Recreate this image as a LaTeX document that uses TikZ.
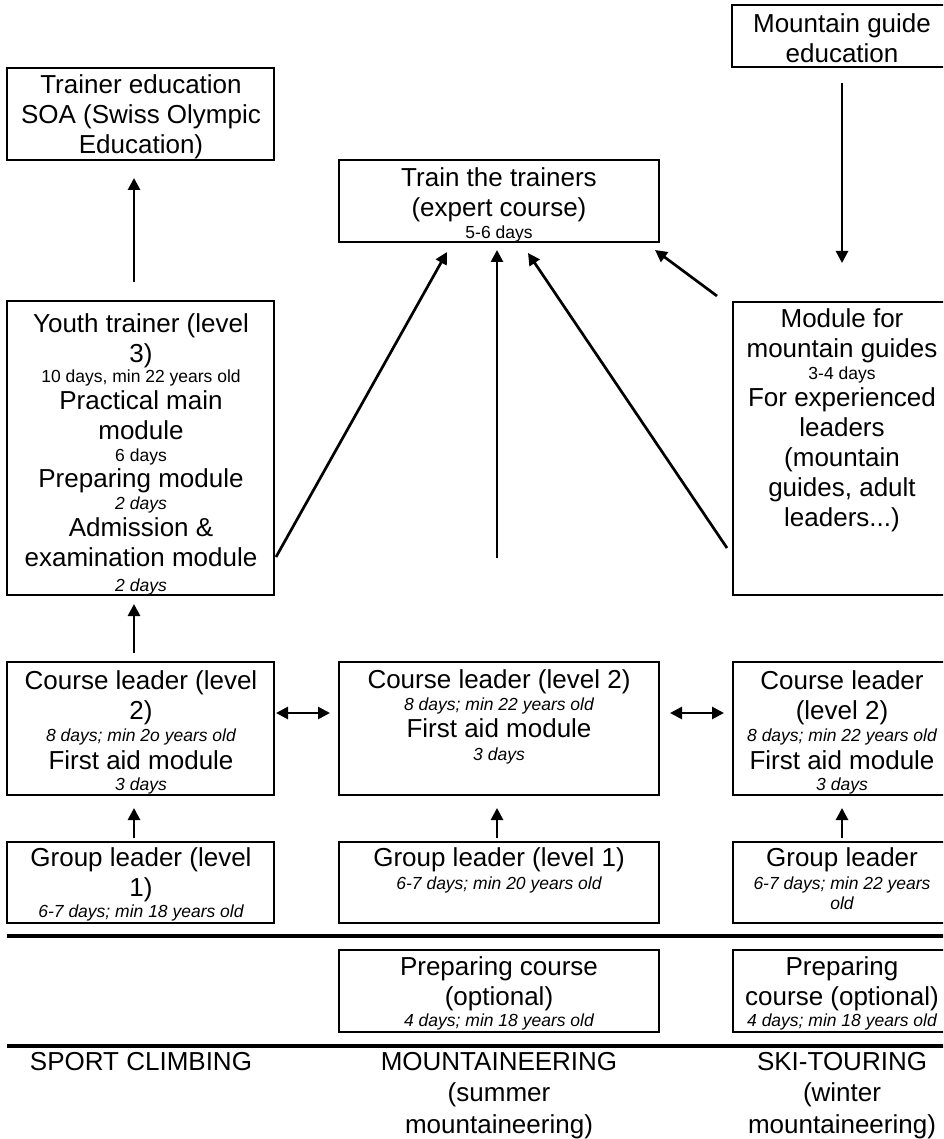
\documentclass[tikz,border=0pt]{standalone}
\usepackage{fontspec}
\setmainfont{Liberation Sans}
\usetikzlibrary{arrows.meta}
\newcommand\bigf{\fontsize{26}{30}\selectfont}
\newcommand\smallf{\fontsize{17.5}{21}\selectfont}
\newcommand\note[1]{{\smallf #1}}
\newcommand\inote[1]{{\smallf\itshape #1}}

\begin{document}
\begin{tikzpicture}[x=1pt,y=-1pt,
  box/.style={draw,line width=2.2pt,inner sep=0pt,outer sep=0pt,anchor=north west},
  txt/.style={anchor=north,align=center,inner sep=0pt,font=\bigf},
  arr/.style={line width=2.7pt,-{Triangle[length=12pt,width=12pt]}},
  darr/.style={line width=2.7pt,{Triangle[length=12pt,width=12pt]}-{Triangle[length=12pt,width=12pt]}},
  sepline/.style={line width=4pt}]

\clip (0,0) rectangle (943,1139);
\fill[white] (0,0) rectangle (943,1139);

% ---------- boxes ----------
\node[box,minimum width=219pt,minimum height=62pt]  (mg)      at (732,5)   {};
\node[box,minimum width=267pt,minimum height=92pt]  (trainer) at (7,68)    {};
\node[box,minimum width=320pt,minimum height=82pt]  (train)   at (339,160) {};
\node[box,minimum width=267pt,minimum height=294pt] (youth)   at (7,301)   {};
\node[box,minimum width=218pt,minimum height=293pt] (module)  at (733,302) {};
\node[box,minimum width=267pt,minimum height=133pt] (clL)     at (7,662)   {};
\node[box,minimum width=320pt,minimum height=133pt] (clC)     at (339,662) {};
\node[box,minimum width=218pt,minimum height=133pt] (clR)     at (733,662) {};
\node[box,minimum width=267pt,minimum height=81pt]  (glL)     at (7,842)   {};
\node[box,minimum width=320pt,minimum height=81pt]  (glC)     at (339,842) {};
\node[box,minimum width=218pt,minimum height=81pt]  (glR)     at (733,842) {};
\node[box,minimum width=320pt,minimum height=82pt]  (prC)     at (339,950) {};
\node[box,minimum width=218pt,minimum height=82pt]  (prR)     at (733,950) {};

% ---------- box texts ----------
\node[txt] (mg-t) at (842,13) {Mountain guide\\education};
\node[txt] (trainer-t) at (141,74) {Trainer education\\SOA (Swiss Olympic\\Education)};
\node[txt] (train-t) at (499,167) {Train the trainers\\(expert course)\\[-8pt]\note{5-6 days}};
\node[txt] (youth-t) at (141,313) {Youth trainer (level\\3)\\[-10pt]\note{10 days, min 22 years old}\\[-3pt]
  Practical main\\module\\[-8pt]\note{6 days}\\[-4pt]Preparing module\\[-8pt]\inote{2 days}\\[-3pt]
  Admission \&\\examination module\\[-5pt]\inote{2 days}};
\node[txt] (module-t) at (842,308) {Module for\\mountain guides\\[-8pt]\note{3-4 days}\\[-3pt]
  For experienced\\leaders\\(mountain\\guides, adult\\leaders...)};
\node[txt] (clL-t) at (141,670) {Course leader (level\\2)\\[-8pt]\inote{8 days; min 2o years old}\\[-2pt]
  First aid module\\[-9pt]\inote{3 days}};
\node[txt] (clC-t) at (499,669) {Course leader (level 2)\\[-8pt]\inote{8 days; min 22 years old}\\[-3pt]
  First aid module\\[-7pt]\inote{3 days}};
\node[txt] (clR-t) at (842,670) {Course leader\\(level 2)\\[-8pt]\inote{8 days; min 22 years old}\\[-2pt]
  First aid module\\[-9pt]\inote{3 days}};
\node[txt] (glL-t) at (141,847) {Group leader (level\\1)\\[-9pt]\inote{6-7 days; min 18 years old}};
\node[txt] (glC-t) at (499,847) {Group leader (level 1)\\[-7pt]\inote{6-7 days; min 20 years old}};
\node[txt] (glR-t) at (842,847) {Group leader\\[-7pt]\inote{6-7 days; min 22 years}\\[-10pt]\inote{old}};
\node[txt] (prC-t) at (499,956) {Preparing course\\(optional)\\[-9pt]\inote{4 days; min 18 years old}};
\node[txt] (prR-t) at (842,956) {Preparing\\course (optional)\\[-9pt]\inote{4 days; min 18 years old}};

% ---------- discipline names ----------
\node[txt] (cat1) at (141,1052) {SPORT CLIMBING};
\node[txt] (cat2) at (499,1052) {MOUNTAINEERING\\[1.5pt](summer\\[1.5pt]mountaineering)};
\node[txt] (cat3) at (842,1052) {SKI-TOURING\\[1.5pt](winter\\[1.5pt]mountaineering)};

% ---------- separators ----------
\draw[sepline] (7,936) -- (951,936);
\draw[sepline] (7,1046) -- (951,1046);

% ---------- connectors ----------
\draw[arr] ([xshift=-6.5pt,yshift=19pt]youth.north) -- ([xshift=-6.5pt,yshift=-18pt]trainer.south);
\draw[arr] ([xshift=-6.5pt,yshift=9pt]clL.north) -- ([xshift=-6.5pt,yshift=-9pt]youth.south);
\draw[arr] ([xshift=-6.5pt,yshift=4pt]glL.north) -- ([xshift=-6.5pt,yshift=-13pt]clL.south);
\draw[arr] ([xshift=-2pt,yshift=4pt]glC.north) -- ([xshift=-2pt,yshift=-13pt]clC.south);
\draw[arr] ([yshift=4pt]glR.north) -- ([yshift=-13pt]clR.south);
\draw[darr] ([xshift=2pt,yshift=15.5pt]clL.east) -- ([xshift=-9pt,yshift=15.5pt]clC.west);
\draw[darr] ([xshift=11pt,yshift=15.5pt]clC.east) -- ([xshift=-9pt,yshift=15.5pt]clR.west);
\draw[arr] ([xshift=2pt,yshift=-109pt]youth.east) -- ([xshift=-52pt,yshift=-10pt]train.south);
\coordinate (midfoot) at (497,558);
\draw[arr] (midfoot) -- ([xshift=-2pt,yshift=-8pt]train.south);
\draw[arr] ([xshift=-6pt,yshift=-99.5pt]module.west) -- ([xshift=29pt,yshift=-11pt]train.south);
\draw[arr] ([xshift=-16pt,yshift=6pt]module.north west) -- ([xshift=-4pt,yshift=-8pt]train.south east);
\draw[arr] ([xshift=0.5pt,yshift=-16pt]mg.south) -- ([yshift=39pt]module.north);
\end{tikzpicture}
\end{document}
